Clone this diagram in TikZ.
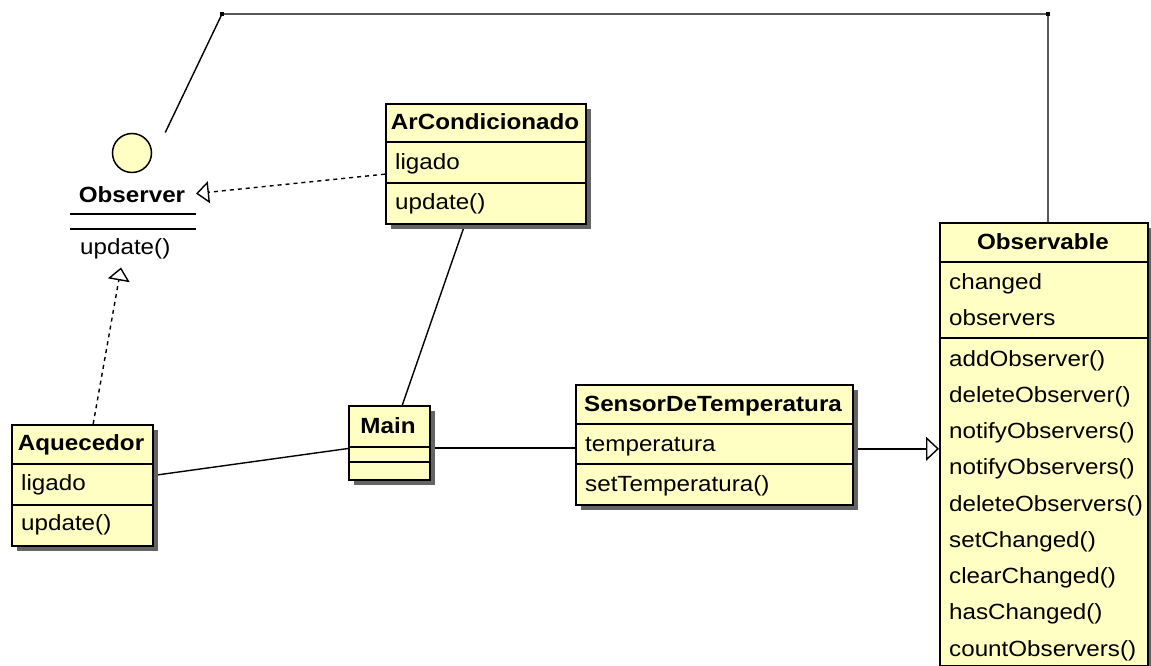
\documentclass[tikz,border=0pt]{standalone}
\usepackage{fontspec}
\setmainfont{Liberation Sans}[FakeStretch=1.1]
\usepackage{tikz}
\usetikzlibrary{arrows.meta,shadows,backgrounds}

\definecolor{umlyellow}{RGB}{255,255,196}
\definecolor{shadowgray}{RGB}{100,100,100}

\tikzset{
  classbox/.style={draw, line width=1.6pt, fill=umlyellow, inner sep=0pt, anchor=north west,
    drop shadow={shadow xshift=5pt, shadow yshift=-5pt, fill=shadowgray, opacity=1}},
  sep/.style={line width=1.5pt},
  cname/.style={font=\fontsize{22}{26}\selectfont\bfseries, inner sep=0pt, anchor=base},
  member/.style={font=\fontsize{22}{26}\selectfont, inner sep=0pt, anchor=base west},
  lolli/.style={circle, draw, line width=1.5pt, fill=umlyellow, minimum size=39pt, inner sep=0pt},
  iface/.style={minimum width=126pt, minimum height=135pt, inner sep=0pt, outer sep=0pt},
  joint/.style={fill, minimum size=4.5pt, inner sep=0pt},
  assoc/.style={line width=1.4pt},
  realize/.style={line width=1.4pt, dash pattern=on 4pt off 4pt,
    -{Triangle[open, length=13pt, width=22pt, fill=white]}},
  extends/.style={line width=1.4pt, -{Triangle[open, length=13pt, width=24pt, fill=white]}}
}

\begin{document}
\begin{tikzpicture}[x=1pt,y=-1pt]
\useasboundingbox (0,0) rectangle (1151,666);

% Observer interface
\node[iface] (observer) at (133,200) {};
\node[lolli] (obscircle) at (132,153) {};
\node[cname] (obsname) at (132,202) {Observer};
\draw[sep] (70,214) -- (196,214);
\draw[sep] (70,229) -- (196,229);
\node[member] (obsupdate) at (80,254) {update()};

% ArCondicionado
\node[classbox, minimum width=200pt, minimum height=120pt] (arcond) at (385,103) {};
\draw[sep] ([yshift=-39pt]arcond.north west) -- ([yshift=-39pt]arcond.north east);
\draw[sep] ([yshift=-80pt]arcond.north west) -- ([yshift=-80pt]arcond.north east);
\node[cname] (arcondname) at (485,130) {ArCondicionado};
\node[member] (arcondligado) at (395,169) {ligado};
\node[member] (arcondupdate) at (395,209) {update()};

% Aquecedor
\node[classbox, minimum width=141pt, minimum height=121pt] (aquecedor) at (11,424) {};
\draw[sep] ([yshift=-40pt]aquecedor.north west) -- ([yshift=-40pt]aquecedor.north east);
\draw[sep] ([yshift=-81pt]aquecedor.north west) -- ([yshift=-81pt]aquecedor.north east);
\node[cname] (aquecedorname) at (81,450) {Aquecedor};
\node[member] (aquecedorligado) at (21,490) {ligado};
\node[member] (aquecedorupdate) at (21,530) {update()};

% Main
\node[classbox, minimum width=81pt, minimum height=74pt] (main) at (348,405) {};
\draw[sep] ([yshift=-42pt]main.north west) -- ([yshift=-42pt]main.north east);
\draw[sep] ([yshift=-57pt]main.north west) -- ([yshift=-57pt]main.north east);
\node[cname] (mainname) at (388,433) {Main};

% SensorDeTemperatura
\node[classbox, minimum width=277pt, minimum height=120pt] (sensor) at (575,384) {};
\draw[sep] ([yshift=-40pt]sensor.north west) -- ([yshift=-40pt]sensor.north east);
\draw[sep] ([yshift=-80pt]sensor.north west) -- ([yshift=-80pt]sensor.north east);
\node[cname] (sensorname) at (713,411) {SensorDeTemperatura};
\node[member] (sensortemp) at (585,451) {temperatura};
\node[member] (sensorset) at (585,491) {setTemperatura()};

% Observable
\node[classbox, minimum width=208pt, minimum height=443pt] (observable) at (939,222) {};
\draw[sep] ([yshift=-40pt]observable.north west) -- ([yshift=-40pt]observable.north east);
\draw[sep] ([yshift=-116pt]observable.north west) -- ([yshift=-116pt]observable.north east);
\node[cname] (observablename) at (1043,249) {Observable};
\node[member] (obschanged) at (949,289) {changed};
\node[member] (obsobservers) at (949,325) {observers};
\node[member] (obsadd) at (949,366) {addObserver()};
\node[member] (obsdelete) at (949,402.25) {deleteObserver()};
\node[member] (obsnotifya) at (949,438.5) {notifyObservers()};
\node[member] (obsnotifyb) at (949,474.75) {notifyObservers()};
\node[member] (obsdeleteall) at (949,511) {deleteObservers()};
\node[member] (obssetch) at (949,547.25) {setChanged()};
\node[member] (obsclearch) at (949,583.5) {clearChanged()};
\node[member] (obshasch) at (949,619.75) {hasChanged()};
\node[member] (obscount) at (949,656) {countObservers()};

% connectors
\node[joint] (lollitop) at (222,14) {};
\node[joint] (obsvtop) at (1048,14) {};
\begin{scope}[on background layer]
\draw[assoc] (observer) -- (lollitop.center) -- (obsvtop.center) -- (obsvtop.center |- observable.north);
\draw[realize] (arcond) -- (observer);
\draw[realize] (aquecedor) -- (observer);
\draw[assoc] (arcond) -- (main);
\draw[assoc] (aquecedor) -- (main);
\draw[assoc] ([yshift=-5pt]main.east) -- ([yshift=-5pt]main.east -| sensor.west);
\draw[extends] ([yshift=-4pt]sensor.east) -- ([yshift=-4pt]sensor.east -| observable.west);
\end{scope}
\end{tikzpicture}
\end{document}
